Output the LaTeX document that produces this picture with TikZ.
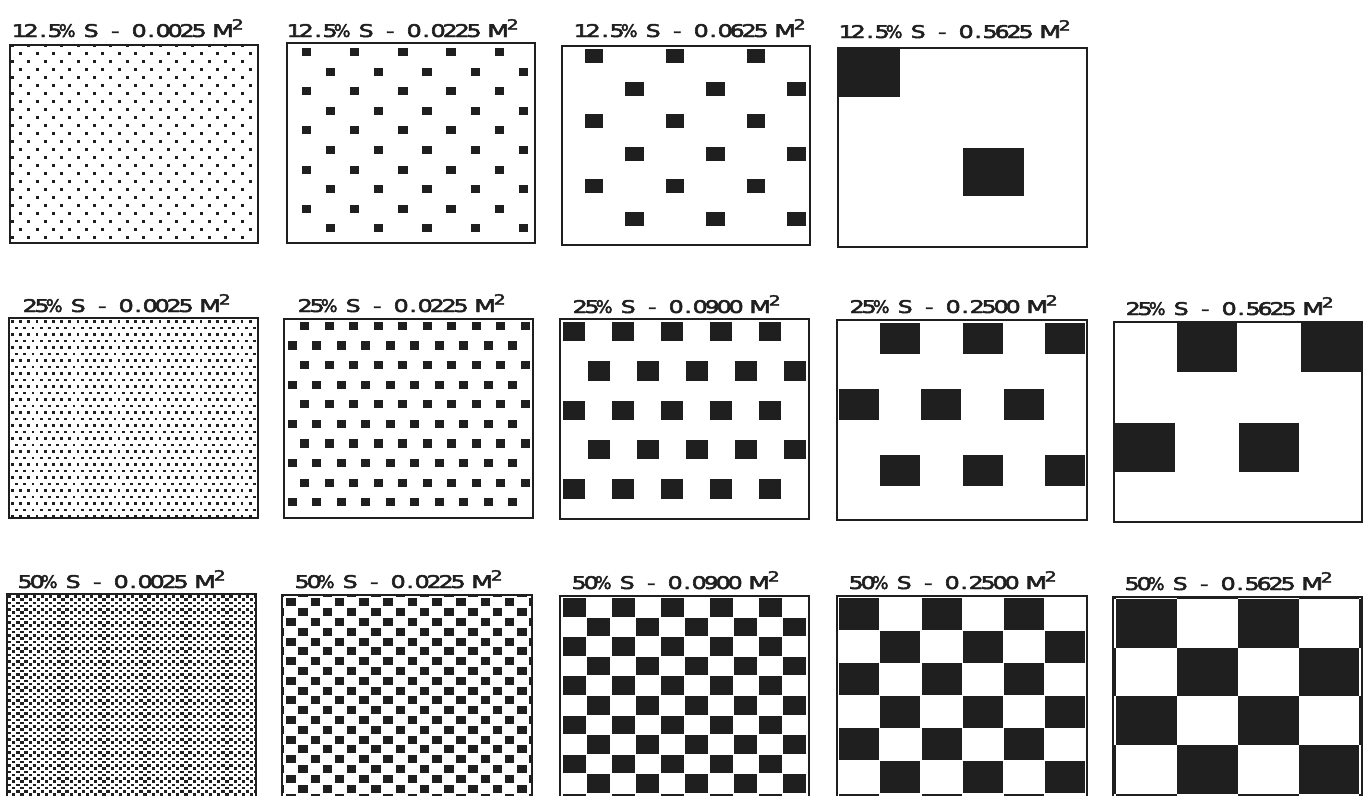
\documentclass[tikz,border=0pt]{standalone}
\usepackage{fontspec}
\setmainfont{DejaVu Sans}
\newfontfamily\labfont{DejaVu Sans}[FakeBold=2.6]
\usepackage{graphicx}
\definecolor{ink}{gray}{0.12}
\newlength\cw \setlength\cw{12pt}
\def\mono#1{\monoA#1\relax}
\def\monoB#1{\ifx#1\%\scalebox{1.0}[1]{#1}\else\ifx#1M\scalebox{1.45}[1]{#1}\else\scalebox{1.35}[1]{#1}\fi\fi}
\def\monoA#1{\ifx#1\relax\else\ifx#1*\hspace*{\cw}\else\makebox[\cw][c]{\monoB{#1}}\fi\expandafter\monoA\fi}
\def\sqm{\hspace{2.5pt}\raisebox{7.5pt}{\fontsize{14}{14}\selectfont\scalebox{1.35}[1]{2}}}
\newcommand\boxdef[4]{\def\pL{#1}\def\pT{#2}\def\pW{#3}\def\pH{#4}}
\newcommand\pat[7]{%
 \begin{scope}
 \clip (\pL,\pT) rectangle ++(\pW,\pH);
 \pgfmathtruncatemacro\nr{\pH/#5+1}
 \pgfmathtruncatemacro\nc{\pW/#3+1}
 \foreach \jj in {-1,...,\nr}{\foreach \ii in {-1,...,\nc}{
   \pgfmathsetmacro\xx{\pL+#6+\ii*#3+mod(\jj+2,2)*#4}
   \pgfmathsetmacro\yy{\pT+#7+\jj*#5}
   \fill[blk] (\xx,\yy) rectangle ++(#1,#2);}}
 \end{scope}
 \draw[frame] (\pL,\pT) rectangle ++(\pW,\pH);}
\begin{document}
\begin{tikzpicture}[x=1pt,y=-1pt,
  lab/.style={anchor=base west,inner sep=0pt,font=\labfont\fontsize{17.5}{20}\selectfont,text=ink},
  frame/.style={draw=ink,line width=1.6pt},
  blk/.style={fill=ink}]
\fill[white] (0,0) rectangle (1367,795);
\useasboundingbox (0,0) rectangle (1367,795);
% ---------- row 1 : 12.5%
\boxdef{10}{45}{248}{198}\pat{3}{2.9}{16.4}{8.2}{8}{1}{-1}
\boxdef{287}{43}{248}{200}\pat{9.5}{8}{48.3}{24.15}{19.6}{14.5}{5}
\boxdef{562}{46}{248}{199}\pat{18.5}{14}{81}{40.5}{32.5}{22.5}{3}
\boxdef{838}{48}{249}{199}\pat{60.5}{48}{248}{124}{99}{1}{1}
\node[lab] (l11) at (13,37) {\mono{12.5\%*S*-*0.0025*M}\sqm};
\node[lab] (l12) at (288,37) {\mono{12.5\%*S*-*0.0225*M}\sqm};
\node[lab] (l13) at (575,37) {\mono{12.5\%*S*-*0.0625*M}\sqm};
\node[lab] (l14) at (840,38) {\mono{12.5\%*S*-*0.5625*M}\sqm};
% ---------- row 2 : 25%
\boxdef{9}{318}{249}{200}\pat{2.8}{2.7}{8.2}{4.1}{6.5}{2}{2}
\boxdef{284}{319}{249}{199}\pat{9}{8.3}{24.5}{12.25}{19.6}{16}{2.7}
\boxdef{560}{319}{249}{200}\pat{22}{19.5}{49}{24.5}{39.4}{3}{2.7}
\boxdef{837}{320}{250}{200}\pat{40}{31}{82.5}{41.25}{66}{43}{3.3}
\boxdef{1114}{322}{248}{200}\pat{59.3}{48.3}{124}{62}{100}{63.3}{1.3}
\node[lab] (l21) at (24,312) {\mono{25\%*S*-*0.0025*M}\sqm};
\node[lab] (l22) at (299,312) {\mono{25\%*S*-*0.0225*M}\sqm};
\node[lab] (l23) at (574,313) {\mono{25\%*S*-*0.0900*M}\sqm};
\node[lab] (l24) at (851,313) {\mono{25\%*S*-*0.2500*M}\sqm};
\node[lab] (l25) at (1127,315) {\mono{25\%*S*-*0.5625*M}\sqm};
% ---------- row 3 : 50%
\boxdef{7}{594}{249}{210}\pat{3.3}{2.7}{8.2}{4.1}{3.25}{1}{1}
\boxdef{282}{595}{250}{210}\pat{9.5}{8}{24.3}{12.15}{9.8}{4.2}{3.3}
\boxdef{560}{596}{249}{210}\pat{23}{18.5}{49}{24.5}{19.6}{2.5}{2}
\boxdef{837}{596}{250}{210}\pat{40}{32}{82.5}{41.25}{32.6}{2}{2}
\boxdef{1113}{597}{249}{210}\pat{60.8}{48.9}{121.7}{60.85}{48.9}{3}{1.6}
\node[lab] (l31) at (19,588) {\mono{50\%*S*-*0.0025*M}\sqm};
\node[lab] (l32) at (296,588) {\mono{50\%*S*-*0.0225*M}\sqm};
\node[lab] (l33) at (573,589) {\mono{50\%*S*-*0.0900*M}\sqm};
\node[lab] (l34) at (850,589) {\mono{50\%*S*-*0.2500*M}\sqm};
\node[lab] (l35) at (1126,590) {\mono{50\%*S*-*0.5625*M}\sqm};
\end{tikzpicture}
\end{document}
